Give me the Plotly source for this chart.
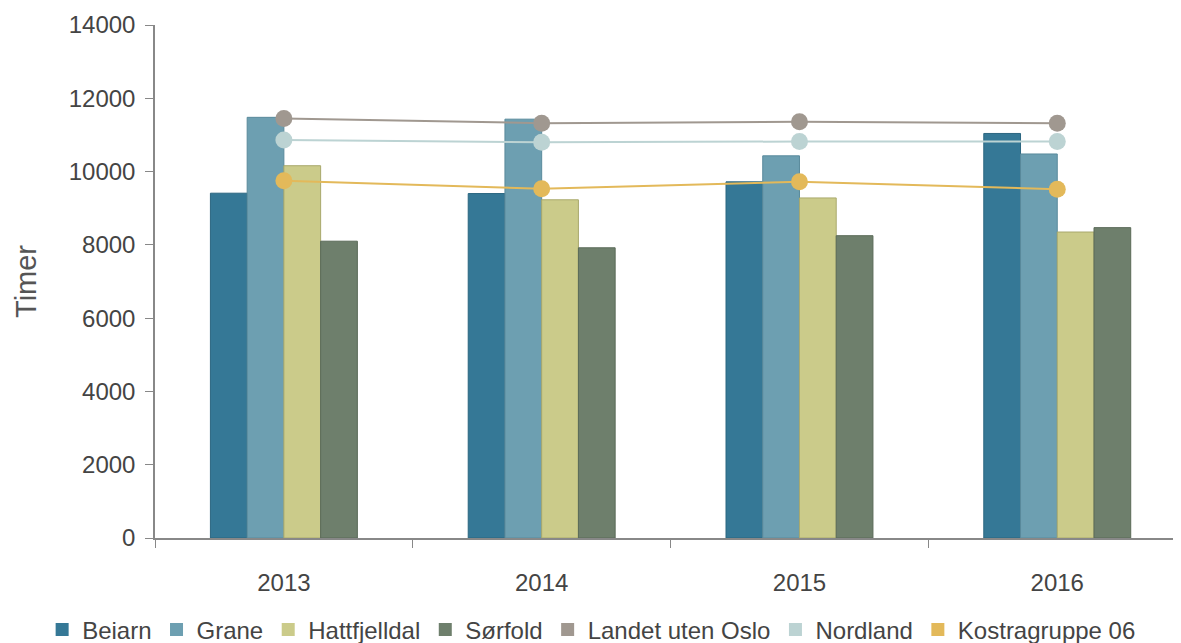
import plotly.graph_objects as go

years = ["2013", "2014", "2015", "2016"]

beiarn = [9410, 9400, 9720, 11040]
grane = [11480, 11430, 10430, 10480]
hattfjelldal = [10160, 9230, 9280, 8350]
sorfold = [8100, 7920, 8250, 8470]

landet = [11450, 11320, 11360, 11320]
nordland = [10860, 10800, 10820, 10820]
kostra = [9750, 9530, 9720, 9520]

bar_series = [
    ("Beiarn", beiarn, "#357896", "#2b6680"),
    ("Grane", grane, "#6d9fb1", "#5a8a9c"),
    ("Hattfjelldal", hattfjelldal, "#cbcb8a", "#a9a96c"),
    ("Sørfold", sorfold, "#6e7f6c", "#5a6a58"),
]
line_series = [
    ("Landet uten Oslo", landet, "#a09890"),
    ("Nordland", nordland, "#bcd3d3"),
    ("Kostragruppe 06", kostra, "#e3b95a"),
]

fig = go.Figure()
for name, vals, col, edge in bar_series:
    fig.add_trace(go.Bar(x=years, y=vals, name=name, marker=dict(color=col, line=dict(color=edge, width=1)),
                         showlegend=False))
for name, vals, col in line_series:
    fig.add_trace(go.Scatter(x=years, y=vals, name=name, mode="lines+markers",
                             line=dict(color=col, width=2),
                             marker=dict(color=col, size=17), showlegend=False))

# legend entries (square swatches)
for name, vals, col, edge in bar_series:
    fig.add_trace(go.Scatter(x=[None], y=[None], name=name, mode="markers",
                             marker=dict(symbol="square", size=13, color=col)))
for name, vals, col in line_series:
    fig.add_trace(go.Scatter(x=[None], y=[None], name=name, mode="markers",
                             marker=dict(symbol="square", size=13, color=col)))

fig.update_layout(
    width=1173, height=635,
    margin=dict(l=147, r=0, t=17, b=105, autoexpand=False),
    plot_bgcolor="white", paper_bgcolor="white",
    barmode="group", bargap=0.43, bargroupgap=0,
    font=dict(family="Liberation Sans, Arial, sans-serif", color="#444444", size=16),
    legend=dict(orientation="h", x=-0.11, xanchor="left", xref="paper",
                yref="paper", y=-0.179, yanchor="middle",
                font=dict(size=24, color="#444444"), itemwidth=30, tracegroupgap=0),
    showlegend=True,
)
fig.update_xaxes(
    type="category", range=[-0.5, 3.48],
    showline=True, linecolor="#888888", linewidth=1.5,
    ticks="outside", tickson="boundaries", ticklen=8, tickcolor="#888888",
    showgrid=False, tickfont=dict(size=24, color="#444444"), ticklabelstandoff=22,
)
fig.update_yaxes(
    range=[0, 14000], dtick=2000, tickformat="d",
    showline=True, linecolor="#888888", linewidth=1.5,
    ticks="outside", ticklen=8, tickcolor="#888888",
    showgrid=False, zeroline=False, tickfont=dict(size=24, color="#444444"), ticklabelstandoff=5,
    title=dict(text="Timer", font=dict(size=29, color="#555555"), standoff=24),
)

fig.write_html("out.html")
